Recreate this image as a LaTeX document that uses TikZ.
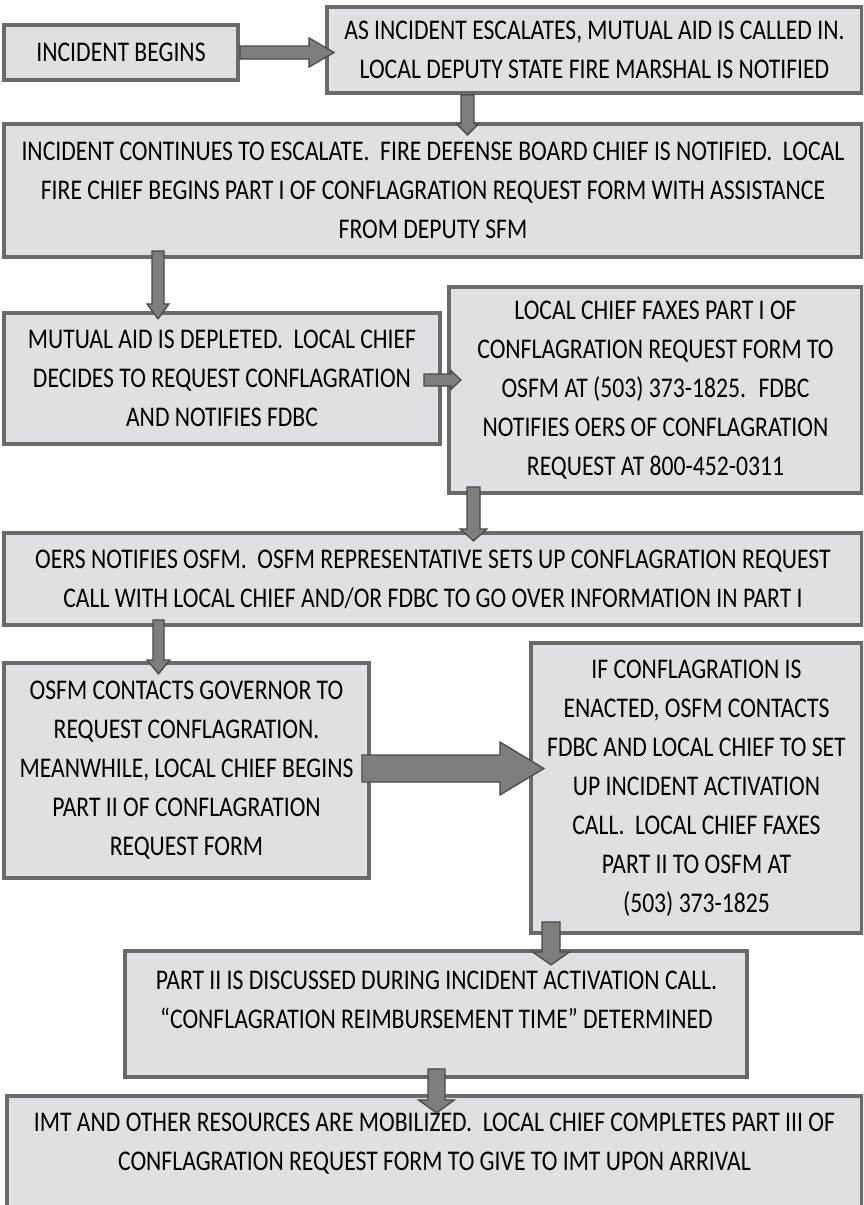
\documentclass[tikz,border=0pt]{standalone}
\usepackage{fontspec}
\setmainfont{Carlito}[FakeStretch=0.83]
\usetikzlibrary{calc}
\definecolor{boxfill}{HTML}{DFE0E3}
\definecolor{boxline}{HTML}{6A6A6A}
\definecolor{arrfill}{HTML}{7E7E7E}
\definecolor{arrline}{HTML}{4A4A4A}
% #1 start, #2 tip, #3 shaft half width, #4 head half width, #5 head length
\newcommand{\blockdown}[5]{%
  \path[blockarrow] let \p1=(#1), \p2=(#2) in
    (\x1-#3pt,\y1) -- (\x1-#3pt,\y2+#5pt) -- (\x1-#4pt,\y2+#5pt) -- (\x1,\y2)
    -- (\x1+#4pt,\y2+#5pt) -- (\x1+#3pt,\y2+#5pt) -- (\x1+#3pt,\y1) -- cycle;}
\newcommand{\blockright}[5]{%
  \path[blockarrow] let \p1=(#1), \p2=(#2) in
    (\x1,\y1-#3pt) -- (\x2-#5pt,\y1-#3pt) -- (\x2-#5pt,\y1-#4pt) -- (\x2,\y1)
    -- (\x2-#5pt,\y1+#4pt) -- (\x2-#5pt,\y1+#3pt) -- (\x1,\y1+#3pt) -- cycle;}
\tikzset{
  box/.style={draw=boxline, fill=boxfill, line width=3.8pt, rectangle,
    inner sep=0pt, align=center, font=\fontsize{28.5}{39}\selectfont},
  boxtext/.style={align=center, inner sep=0pt, font=\fontsize{28.5}{39}\selectfont},
  blockarrow/.style={draw=arrline, fill=arrfill, line width=1.3pt, line join=miter}
}
\begin{document}
\begin{tikzpicture}[x=1pt,y=-1pt]
\fill[white] (0,0) rectangle (863,1205);
\useasboundingbox (0,0) rectangle (863,1205);
\begin{scope}
\clip (0,0) rectangle (863,1205);
% boxes
\node[box, minimum width=234pt, minimum height=55pt] (b1) at (121,52.5) {INCIDENT BEGINS};
\node[box, minimum width=535pt, minimum height=86pt] (b2) at (594.5,50)
  {AS INCIDENT ESCALATES, MUTUAL AID IS CALLED IN.\\ LOCAL DEPUTY STATE FIRE MARSHAL IS NOTIFIED};
\node[box, minimum width=858pt, minimum height=133pt] (b3) at (433,190.5)
  {INCIDENT CONTINUES TO ESCALATE.~ FIRE DEFENSE BOARD CHIEF IS NOTIFIED.~ LOCAL\\
   FIRE CHIEF BEGINS PART I OF CONFLAGRATION REQUEST FORM WITH ASSISTANCE\\ FROM DEPUTY SFM};
\node[box, minimum width=436pt, minimum height=131pt] (b4) at (222,378.5)
  {MUTUAL AID IS DEPLETED.~ LOCAL CHIEF\\ DECIDES TO REQUEST CONFLAGRATION\\ AND NOTIFIES FDBC};
\node[box, minimum width=413pt, minimum height=206pt] (b5) at (655.5,390)
  {LOCAL CHIEF FAXES PART I OF\\ CONFLAGRATION REQUEST FORM TO\\ OSFM AT (503) 373-1825.~ FDBC\\
   NOTIFIES OERS OF CONFLAGRATION\\ REQUEST AT 800-452-0311};
\node[box, minimum width=858pt, minimum height=92pt] (b6) at (433,579)
  {OERS NOTIFIES OSFM.~ OSFM REPRESENTATIVE SETS UP CONFLAGRATION REQUEST\\
   CALL WITH LOCAL CHIEF AND/OR FDBC TO GO OVER INFORMATION IN PART I};
\node[box, minimum width=365pt, minimum height=215pt] (b7) at (186.5,770.5)
  {OSFM CONTACTS GOVERNOR TO\\ REQUEST CONFLAGRATION.\\ MEANWHILE, LOCAL CHIEF BEGINS\\
   PART II OF CONFLAGRATION\\ REQUEST FORM};
\node[box, minimum width=331pt, minimum height=290pt] (b8) at (696.5,788)
  {IF CONFLAGRATION IS\\ ENACTED, OSFM CONTACTS\\ FDBC AND LOCAL CHIEF TO SET\\
   UP INCIDENT ACTIVATION\\ CALL.~ LOCAL CHIEF FAXES\\ PART II TO OSFM AT\\ (503) 373-1825};
\node[box, minimum width=622pt, minimum height=126pt] (b9) at (436,1014) {};
\node[boxtext] (t9) at ($(b9.center)+(0.5,-14)$)
  {PART II IS DISCUSSED DURING INCIDENT ACTIVATION CALL.\\
   “CONFLAGRATION REIMBURSEMENT TIME” DETERMINED};
\node[box, minimum width=855pt, minimum height=119pt] (b10) at (434.5,1155.5) {};
\node[boxtext] (t10) at ($(b10.center)+(0,-12)$)
  {IMT AND OTHER RESOURCES ARE MOBILIZED.~ LOCAL CHIEF COMPLETES PART III OF\\
   CONFLAGRATION REQUEST FORM TO GIVE TO IMT UPON ARRIVAL};
% connectors
\blockright{b1.east}{$(b2.west |- b1.east)+(9,0)$}{6.5}{14.5}{25}
\blockdown{$(b2.south)+(-127,0)$}{$(b2.south)+(-127,40)$}{6.5}{11}{11}
\blockdown{$(b3.south)+(-275,-8)$}{$(b3.south)+(-275,60)$}{6}{11}{15}
\blockright{$(b4.east)+(-18,1.5)$}{$(b4.east)+(19,1.5)$}{6}{9.5}{10}
\blockdown{$(b5.south)+(-182,-8)$}{$(b5.south)+(-182,46)$}{6.5}{13.5}{12}
\blockdown{$(b6.south)+(-274.5,-7)$}{$(b6.south)+(-274.5,47)$}{5.5}{11.5}{14}
\blockright{$(b7.east)+(-9,-2)$}{$(b7.east)+(173,-2)$}{13.5}{26.5}{44}
\blockdown{$(b8.south)+(-145.5,-13)$}{$(b8.south)+(-145.5,30)$}{9}{18.5}{13}
\blockdown{$(b9.south)+(0.5,-10)$}{$(b9.south)+(0.5,34)$}{8.5}{18}{13}
\end{scope}
\end{tikzpicture}
\end{document}
